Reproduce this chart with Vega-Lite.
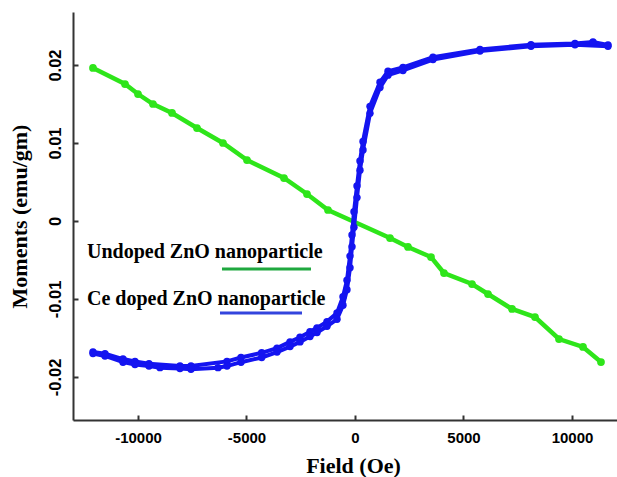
{
  "$schema": "https://vega.github.io/schema/vega-lite/v6.json",
  "width": 544,
  "height": 408,
  "autosize": {"type": "none"},
  "padding": {"left": 73, "top": 12, "right": 0, "bottom": 57},
  "background": "white",
  "config": {
    "view": {"stroke": null},
    "axis": {
      "grid": false,
      "labelFont": "Liberation Sans",
      "labelFontWeight": "bold",
      "labelFontSize": 15,
      "labelColor": "#000000",
      "titleFont": "Liberation Serif",
      "titleFontWeight": "bold",
      "titleFontSize": 22,
      "titleColor": "#000000"
    }
  },
  "datasets": {
    "green": [
      {"field": -12074, "moment": 0.01962},
      {"field": -10599, "moment": 0.01756},
      {"field": -10000, "moment": 0.01628},
      {"field": -9309, "moment": 0.0150},
      {"field": -8433, "moment": 0.01385},
      {"field": -7281, "moment": 0.01192},
      {"field": -6083, "moment": 0.0100},
      {"field": -4977, "moment": 0.00782},
      {"field": -3272, "moment": 0.00551},
      {"field": -2212, "moment": 0.00346},
      {"field": -1244, "moment": 0.00141},
      {"field": 1613, "moment": -0.00218},
      {"field": 2442, "moment": -0.00333},
      {"field": 3502, "moment": -0.00462},
      {"field": 4101, "moment": -0.00667},
      {"field": 5392, "moment": -0.00808},
      {"field": 6129, "moment": -0.00936},
      {"field": 7235, "moment": -0.01128},
      {"field": 8295, "moment": -0.01231},
      {"field": 9401, "moment": -0.01513},
      {"field": 10507, "moment": -0.01615},
      {"field": 11336, "moment": -0.01808}
    ],
    "blue": [
      {"branch": "desc", "field": 11659, "moment": 0.02256},
      {"branch": "desc", "field": 10968, "moment": 0.02295},
      {"branch": "desc", "field": 10138, "moment": 0.02275},
      {"branch": "desc", "field": 8111, "moment": 0.0226},
      {"branch": "desc", "field": 5760, "moment": 0.022},
      {"branch": "desc", "field": 3594, "moment": 0.0210},
      {"branch": "desc", "field": 2212, "moment": 0.0197},
      {"branch": "desc", "field": 1521, "moment": 0.0192},
      {"branch": "desc", "field": 1152, "moment": 0.0178},
      {"branch": "desc", "field": 691, "moment": 0.0147},
      {"branch": "desc", "field": 369, "moment": 0.0102},
      {"branch": "desc", "field": 230, "moment": 0.0077},
      {"branch": "desc", "field": 92, "moment": 0.0045},
      {"branch": "desc", "field": -46, "moment": 0.0012},
      {"branch": "desc", "field": -138, "moment": -0.0018},
      {"branch": "desc", "field": -230, "moment": -0.0045},
      {"branch": "desc", "field": -369, "moment": -0.0076},
      {"branch": "desc", "field": -553, "moment": -0.0097},
      {"branch": "desc", "field": -829, "moment": -0.0118},
      {"branch": "desc", "field": -1290, "moment": -0.0129},
      {"branch": "desc", "field": -1751, "moment": -0.0137},
      {"branch": "desc", "field": -2074, "moment": -0.0142},
      {"branch": "desc", "field": -2535, "moment": -0.0149},
      {"branch": "desc", "field": -2995, "moment": -0.0155},
      {"branch": "desc", "field": -3594, "moment": -0.0163},
      {"branch": "desc", "field": -4300, "moment": -0.0169},
      {"branch": "desc", "field": -5253, "moment": -0.0175},
      {"branch": "desc", "field": -5899, "moment": -0.0180},
      {"branch": "desc", "field": -7558, "moment": -0.0186},
      {"branch": "desc", "field": -8065, "moment": -0.0186},
      {"branch": "desc", "field": -9493, "moment": -0.0183},
      {"branch": "desc", "field": -10138, "moment": -0.0180},
      {"branch": "desc", "field": -10691, "moment": -0.0177},
      {"branch": "desc", "field": -11521, "moment": -0.0170},
      {"branch": "desc", "field": -12074, "moment": -0.0168},
      {"branch": "asc", "field": -12074, "moment": -0.0170},
      {"branch": "asc", "field": -11521, "moment": -0.0173},
      {"branch": "asc", "field": -10691, "moment": -0.0181},
      {"branch": "asc", "field": -10138, "moment": -0.0184},
      {"branch": "asc", "field": -9493, "moment": -0.0186},
      {"branch": "asc", "field": -8986, "moment": -0.0188},
      {"branch": "asc", "field": -8065, "moment": -0.0189},
      {"branch": "asc", "field": -7558, "moment": -0.0190},
      {"branch": "asc", "field": -6313, "moment": -0.0188},
      {"branch": "asc", "field": -5899, "moment": -0.0186},
      {"branch": "asc", "field": -5253, "moment": -0.0181},
      {"branch": "asc", "field": -4300, "moment": -0.0175},
      {"branch": "asc", "field": -3594, "moment": -0.0168},
      {"branch": "asc", "field": -2995, "moment": -0.0161},
      {"branch": "asc", "field": -2535, "moment": -0.0155},
      {"branch": "asc", "field": -2074, "moment": -0.0148},
      {"branch": "asc", "field": -1751, "moment": -0.0143},
      {"branch": "asc", "field": -1290, "moment": -0.0135},
      {"branch": "asc", "field": -829, "moment": -0.0126},
      {"branch": "asc", "field": -553, "moment": -0.0108},
      {"branch": "asc", "field": -369, "moment": -0.0088},
      {"branch": "asc", "field": -230, "moment": -0.0060},
      {"branch": "asc", "field": -138, "moment": -0.0033},
      {"branch": "asc", "field": -46, "moment": -0.0008},
      {"branch": "asc", "field": 92, "moment": 0.0030},
      {"branch": "asc", "field": 230, "moment": 0.0065},
      {"branch": "asc", "field": 369, "moment": 0.0091},
      {"branch": "asc", "field": 691, "moment": 0.0138},
      {"branch": "asc", "field": 1152, "moment": 0.0171},
      {"branch": "asc", "field": 1521, "moment": 0.0187},
      {"branch": "asc", "field": 2212, "moment": 0.0193},
      {"branch": "asc", "field": 3594, "moment": 0.0207},
      {"branch": "asc", "field": 5760, "moment": 0.0218},
      {"branch": "asc", "field": 8111, "moment": 0.0224},
      {"branch": "asc", "field": 10138, "moment": 0.0226},
      {"branch": "asc", "field": 11659, "moment": 0.0224}
    ],
    "legendText": [
      {"label": "Undoped ZnO nanoparticle", "field": -12350, "moment": -0.00474},
      {"label": "Ce doped ZnO nanoparticle", "field": -12350, "moment": -0.01077}
    ],
    "legendGreen": [
      {"field": -6129, "field2": -2028, "moment": -0.00615}
    ],
    "legendBlue": [
      {"field": -6221, "field2": -2442, "moment": -0.0118}
    ]
  },
  "resolve": {"axis": {"x": "independent", "y": "independent"}},
  "layer": [
    {
      "data": {"name": "green"},
      "mark": {"type": "line", "color": "#2ee51a", "strokeWidth": 4.5},
      "encoding": {
        "x": {
          "field": "field",
          "type": "quantitative",
          "scale": {"domain": [-12995, 12074], "nice": false, "zero": false},
          "axis": {
            "title": "Field (Oe)",
            "orient": "bottom",
            "values": [-10000, -5000, 0, 5000, 10000],
            "labelExpr": "replace(format(datum.value, 'd'), '−', '-')",
            "domain": true,
            "domainColor": "#333333",
            "domainWidth": 2,
            "ticks": true,
            "tickColor": "#333333",
            "tickWidth": 2,
            "tickSize": -5,
            "labelPadding": 15,
            "titlePadding": 10,
            "titleX": 280
          }
        },
        "y": {
          "field": "moment",
          "type": "quantitative",
          "scale": {"domain": [-0.025513, 0.026795], "nice": false, "zero": false},
          "axis": {
            "title": "Moments (emu/gm)",
            "orient": "left",
            "values": [-0.02, -0.01, 0, 0.01, 0.02],
            "labelExpr": "replace(format(datum.value, '.2~f'), '−', '-')",
            "labelAngle": -90,
            "labelAlign": "center",
            "labelBaseline": "bottom",
            "labelFontSize": 16.5,
            "domain": true,
            "domainColor": "#333333",
            "domainWidth": 2,
            "ticks": true,
            "tickColor": "#333333",
            "tickWidth": 2,
            "tickSize": -5,
            "labelPadding": 15,
            "titlePadding": 16
          }
        }
      }
    },
    {
      "data": {"name": "green"},
      "mark": {"type": "point", "filled": true, "color": "#2ee51a", "size": 60, "opacity": 1},
      "encoding": {
        "x": {"field": "field", "type": "quantitative", "axis": null},
        "y": {"field": "moment", "type": "quantitative", "axis": null}
      }
    },
    {
      "data": {"name": "blue"},
      "mark": {"type": "line", "color": "#1414f0", "strokeWidth": 4},
      "encoding": {
        "x": {"field": "field", "type": "quantitative", "axis": null},
        "y": {"field": "moment", "type": "quantitative", "axis": null},
        "detail": {"field": "branch"}
      }
    },
    {
      "data": {"name": "blue"},
      "mark": {"type": "point", "filled": true, "color": "#1414f0", "size": 55, "opacity": 1},
      "encoding": {
        "x": {"field": "field", "type": "quantitative", "axis": null},
        "y": {"field": "moment", "type": "quantitative", "axis": null}
      }
    },
    {
      "mark": {"type": "rule", "color": "#000000", "strokeWidth": 2},
      "encoding": {"y": {"datum": 0, "type": "quantitative", "axis": null}}
    },
    {
      "mark": {"type": "rule", "color": "#000000", "strokeWidth": 2.5},
      "encoding": {"x": {"datum": 0, "type": "quantitative", "axis": null}}
    },
    {
      "mark": {"type": "rule", "color": "#333333", "strokeWidth": 2},
      "encoding": {"x": {"datum": -12995, "type": "quantitative", "axis": null}}
    },
    {
      "mark": {"type": "rule", "color": "#333333", "strokeWidth": 2},
      "encoding": {"y": {"datum": 0.026795, "type": "quantitative", "axis": null}}
    },
    {
      "data": {"name": "legendText"},
      "mark": {"type": "text", "align": "left", "baseline": "alphabetic", "font": "Liberation Serif", "fontWeight": "bold", "fontSize": 20, "color": "#000000"},
      "encoding": {
        "x": {"field": "field", "type": "quantitative", "axis": null},
        "y": {"field": "moment", "type": "quantitative", "axis": null},
        "text": {"field": "label"}
      }
    },
    {
      "data": {"name": "legendGreen"},
      "mark": {"type": "rule", "color": "#1fa83f", "strokeWidth": 3},
      "encoding": {
        "x": {"field": "field", "type": "quantitative", "axis": null},
        "x2": {"field": "field2"},
        "y": {"field": "moment", "type": "quantitative", "axis": null}
      }
    },
    {
      "data": {"name": "legendBlue"},
      "mark": {"type": "rule", "color": "#3344dd", "strokeWidth": 3},
      "encoding": {
        "x": {"field": "field", "type": "quantitative", "axis": null},
        "x2": {"field": "field2"},
        "y": {"field": "moment", "type": "quantitative", "axis": null}
      }
    }
  ]
}
